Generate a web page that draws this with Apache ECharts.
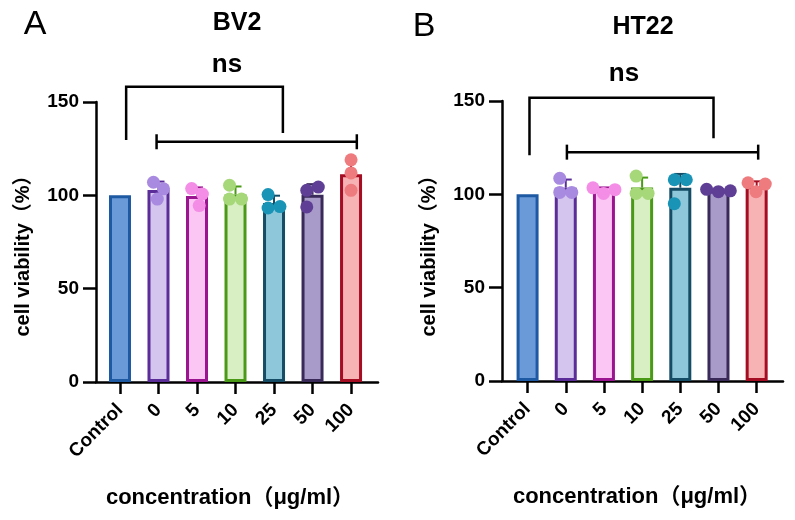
<!DOCTYPE html>
<html>
<head>
<meta charset="utf-8">
<script src="https://cdn.jsdelivr.net/npm/echarts@6/dist/echarts.min.js"></script>
<style>html,body{margin:0;padding:0;background:#fff}#c{width:795px;height:520px}</style>
</head>
<body>
<div id="c"></div>
<script>
const categories = ['Control', '0', '5', '10', '25', '50', '100'];
const yTicks = [0, 50, 100, 150];
const controlValue = 100;
// replicate values (%), null = control (normalised)
const bv2Rep1 = [null, 107, 103.6, 105.4, 100.4, 104.4, 119];
const bv2Rep2 = [null, 103.5, 100.7, 98, 93.2, 102.7, 112];
const bv2Rep3 = [null, 98, 94.5, 98, 94, 93.8, 102.7];
const ht22Rep1 = [null, 108.6, 102.5, 109.8, 107.8, 101.4, 101.4];
const ht22Rep2 = [null, 101, 103.5, 100.5, 107.8, 102.7, 106.2];
const ht22Rep3 = [null, 101, 100.5, 100.5, 95, 101.9, 105.5];
// significance brackets: [fromIdx, toIdx, topValue, leftLegEnd, rightLegEnd]
const bv2BracketA = [0.16, 4.23, 158.2, 129.6, 133.4];
const ht22BracketA = [0.05, 4.87, 151.7, 121, 130];
// [fromIdx, toIdx, value]
const bv2BracketB = [0.95, 6.15, 128.7];
const ht22BracketB = [1.03, 6.04, 122.6];

const fillColors = ['#6a9bd8', '#d3c5ee', '#fbc6f3', '#d8efc4', '#8dc7d9', '#a99bc9', '#f7b2b4'];
const borderColors = ['#1d5aa3', '#5a2d98', '#9c1590', '#4b9a17', '#154d66', '#3a2a5a', '#a50d22'];
const dotColors = ['#6a9bd8', '#a88ae0', '#f48de6', '#a6d87a', '#1a94b6', '#5f3f96', '#ee7b7e'];

const FONT = "'Liberation Sans', Arial, Helvetica, 'Noto Sans CJK SC', sans-serif";
const PX_PER_UNIT = 280 / 150;
const DOT = 13;

function stats(reps, i) {
  const v = reps.map(r => r[i]).filter(x => x != null);
  if (!v.length) return { mean: controlValue, sd: 0, vals: [] };
  const m = v.reduce((a, b) => a + b, 0) / v.length;
  const sd = Math.sqrt(v.reduce((a, b) => a + (b - m) * (b - m), 0) / (v.length - 1));
  return { mean: m, sd: sd, vals: v };
}

function swarm(vals) {
  const order = vals.map((v, i) => i).sort((a, b) => vals[a] - vals[b]);
  const placed = [];
  const offs = new Array(vals.length).fill(0);
  const D = DOT - 1;
  order.forEach(idx => {
    const y = vals[idx] * PX_PER_UNIT;
    const cands = [0];
    placed.forEach(p => {
      const dy = Math.abs(y - p.y);
      if (dy < D) {
        const dx = Math.sqrt(D * D - dy * dy);
        cands.push(p.x + dx, p.x - dx);
      }
    });
    cands.sort((a, b) => Math.abs(a) - Math.abs(b));
    let pick = cands.find(c => placed.every(p => (c - p.x) ** 2 + (y - p.y) ** 2 >= D * D - 0.01));
    if (pick === undefined) pick = 0;
    placed.push({ x: pick, y: y });
    offs[idx] = pick;
  });
  const lo = Math.min.apply(null, offs), hi = Math.max.apply(null, offs);
  const shift = (lo + hi) / 2;
  return offs.map(o => o - shift);
}

function buildSeries(reps, gridIdx, brA, brB) {
  const barData = [], errData = [], dotData = [];
  categories.forEach((c, i) => {
    const s = stats(reps, i);
    barData.push({ value: [i, s.mean], itemStyle: { color: fillColors[i], borderColor: borderColors[i], borderWidth: 3 } });
    if (s.vals.length) {
      errData.push({ value: [i, s.mean, s.sd], itemStyle: { color: borderColors[i] } });
      const offs = swarm(s.vals);
      s.vals.forEach((v, k) => {
        dotData.push({ value: [i, v], symbolOffset: [offs[k], 0], itemStyle: { color: dotColors[i] } });
      });
    }
  });
  return [
    {
      type: 'bar', xAxisIndex: gridIdx, yAxisIndex: gridIdx, barWidth: 22, data: barData, z: 2
    },
    {
      type: 'custom', xAxisIndex: gridIdx, yAxisIndex: gridIdx, z: 3, clip: false,
      data: errData,
      renderItem: function (params, api) {
        const i = api.value(0), m = api.value(1), sd = api.value(2);
        const b = api.coord([i, m]);
        const t = api.coord([i, m + sd]);
        const col = api.visual('color');
        return {
          type: 'group', children: [
            { type: 'line', shape: { x1: b[0], y1: b[1], x2: t[0], y2: t[1] }, style: { stroke: col, lineWidth: 2 } },
            { type: 'line', shape: { x1: t[0] - 6, y1: t[1], x2: t[0] + 6, y2: t[1] }, style: { stroke: col, lineWidth: 2 } }
          ]
        };
      }
    },
    {
      type: 'scatter', xAxisIndex: gridIdx, yAxisIndex: gridIdx, symbolSize: DOT, data: dotData, z: 4,
      itemStyle: { opacity: 1 }
    },
    {
      type: 'custom', xAxisIndex: gridIdx, yAxisIndex: gridIdx, z: 5, clip: false,
      data: [brA],
      renderItem: function (params, api) {
        const pL = api.coord([api.value(0), api.value(3)]);
        const pLT = api.coord([api.value(0), api.value(2)]);
        const pRT = api.coord([api.value(1), api.value(2)]);
        const pR = api.coord([api.value(1), api.value(4)]);
        return { type: 'polyline', shape: { points: [pL, pLT, pRT, pR] }, style: { stroke: '#000', lineWidth: 2.5, fill: null } };
      }
    },
    {
      type: 'custom', xAxisIndex: gridIdx, yAxisIndex: gridIdx, z: 5, clip: false,
      data: [brB],
      renderItem: function (params, api) {
        const a = api.coord([api.value(0), api.value(2)]);
        const b = api.coord([api.value(1), api.value(2)]);
        return {
          type: 'group', children: [
            { type: 'line', shape: { x1: a[0], y1: a[1], x2: b[0], y2: b[1] }, style: { stroke: '#000', lineWidth: 2.5 } },
            { type: 'line', shape: { x1: a[0], y1: a[1] - 7.5, x2: a[0], y2: a[1] + 7.5 }, style: { stroke: '#000', lineWidth: 2.5 } },
            { type: 'line', shape: { x1: b[0], y1: b[1] - 7.5, x2: b[0], y2: b[1] + 7.5 }, style: { stroke: '#000', lineWidth: 2.5 } }
          ]
        };
      }
    }
  ];
}

function xAxisCfg(gridIdx, min, max) {
  return {
    type: 'value', gridIndex: gridIdx, min: min, max: max,
    splitLine: { show: false },
    axisLine: { show: true, onZero: false, lineStyle: { color: '#000', width: 2.5 } },
    axisTick: { show: true, customValues: categories.map((c, i) => i), length: 12, lineStyle: { color: '#000', width: 2.5 } },
    axisLabel: {
      show: true, customValues: categories.map((c, i) => i), rotate: 45, margin: 25,
      formatter: v => categories[Math.round(v)],
      color: '#000', fontSize: 19, fontWeight: 'bold', fontFamily: FONT
    }
  };
}
function yAxisCfg(gridIdx) {
  return {
    type: 'value', gridIndex: gridIdx, min: yTicks[0], max: yTicks[yTicks.length - 1], interval: 50,
    splitLine: { show: false },
    axisLine: { show: true, onZero: false, lineStyle: { color: '#000', width: 2.5 } },
    axisTick: { show: true, length: 13, lineStyle: { color: '#000', width: 2.5 } },
    axisLabel: { color: '#000', fontSize: 19, fontWeight: 'bold', fontFamily: FONT, margin: 17 }
  };
}

function txt(text, x, y, size, weight, rot) {
  return {
    type: 'text', x: x, y: y, rotation: rot || 0, z: 10,
    style: { text: text, fill: '#000', font: weight + ' ' + size + 'px ' + FONT, align: 'center', verticalAlign: 'middle' }
  };
}

const chart = echarts.init(document.getElementById('c'), null, { renderer: 'canvas' });
chart.setOption({
  animation: false,
  backgroundColor: '#fff',
  grid: [
    { left: 96, top: 102, width: 282, height: 280 },
    { left: 502, top: 101, width: 281, height: 280 }
  ],
  xAxis: [xAxisCfg(0, -0.623, 6.70), xAxisCfg(1, -0.67, 6.69)],
  yAxis: [yAxisCfg(0), yAxisCfg(1)],
  series: [].concat(
    buildSeries([bv2Rep1, bv2Rep2, bv2Rep3], 0, bv2BracketA, bv2BracketB),
    buildSeries([ht22Rep1, ht22Rep2, ht22Rep3], 1, ht22BracketA, ht22BracketB)
  ),
  graphic: [
    txt('A', 35, 25, 34, 'normal'),
    txt('B', 424, 27, 34, 'normal'),
    txt('BV2', 237, 23, 25, 'bold'),
    txt('HT22', 643, 27, 25, 'bold'),
    txt('ns', 227, 65, 26, 'bold'),
    txt('ns', 624, 74, 26, 'bold'),
    txt('cell viability（%）', 23, 251, 20, 'bold', Math.PI / 2),
    txt('cell viability（%）', 429, 251, 20, 'bold', Math.PI / 2),
    txt('concentration（μg/ml）', 230, 498, 22, 'bold'),
    txt('concentration（μg/ml）', 637, 497, 22, 'bold')
  ]
});
</script>
</body>
</html>
